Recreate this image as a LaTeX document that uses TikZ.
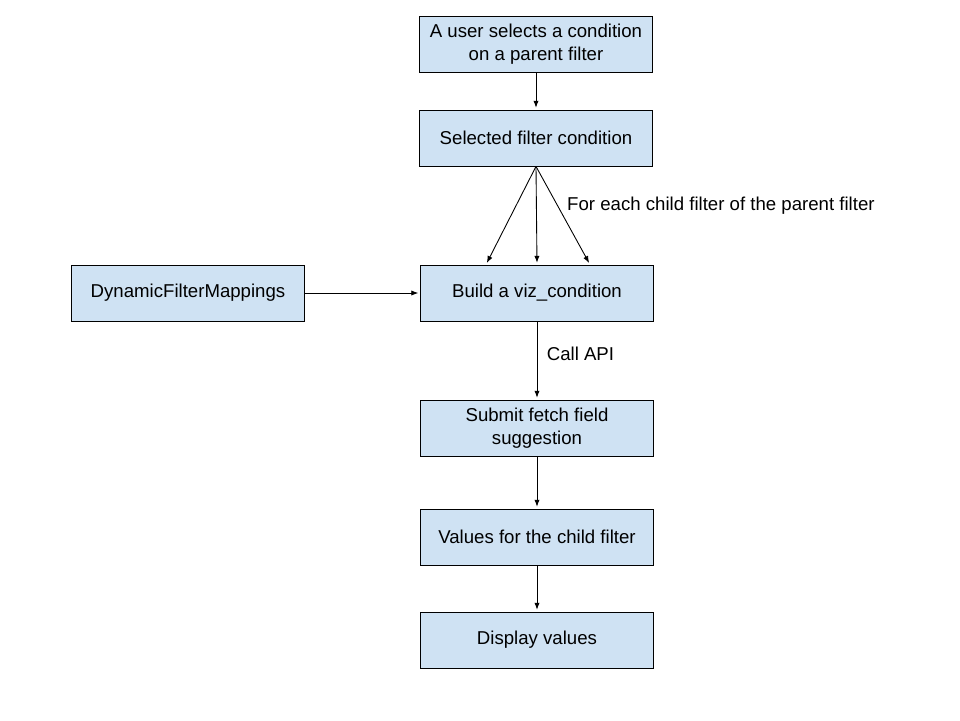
\documentclass[tikz,border=0pt]{standalone}
\usepackage{fontspec}
\setmainfont{Liberation Sans}
\usetikzlibrary{arrows.meta}
\usetikzlibrary{positioning}
\definecolor{boxblue}{HTML}{CFE2F3}

\begin{document}
\begin{tikzpicture}[
		x=0.02cm, y=-0.02cm,
		box/.style={draw=black, fill=boxblue, line width=0.5pt, minimum width=4.66cm, minimum height=1.12cm, align=center, font=\fontsize{10.6}{13}\selectfont},
		arr/.style={-{Latex[length=4pt,width=3pt]}, line width=0.5pt, shorten >=1pt},
		lbl/.style={font=\fontsize{10.6}{13}\selectfont}
	]
	\useasboundingbox (0,0) rectangle (960,720);
	% boxes
	\node[box] (user) at (536,44) {A user selects a condition\\on a parent filter};
	\node[box] (sel) at (536,138) {Selected filter condition};
	\node[box] (build) at (537,293) {Build a viz\_condition};
	\node[box] (dfm) at (188,293) {DynamicFilterMappings};
	\node[box] (submit) at (537,428) {Submit fetch field\\suggestion};
	\node[box] (vals) at (537,537) {Values for the child filter};
	\node[box] (disp) at (537,640) {Display values};
	% arrows
	\draw[arr] (user) -- (sel);
	\draw[arr] (sel.south) -- ([xshift=-1.02cm]build.north);
	\draw[arr] (sel.south) -- (build.north);
	\draw[arr] (sel.south) -- ([xshift=1.06cm]build.north);
	\node[lbl, anchor=west] (each) at (561,206) {For each child filter of the parent filter};
	\draw[arr] (dfm) -- (build);
	\draw[arr] (build) -- (submit) node[lbl, pos=0.42, right=2pt] (api) {Call API};
	\draw[arr] (submit) -- (vals);
	\draw[arr] (vals) -- (disp);
\end{tikzpicture}
\end{document}
